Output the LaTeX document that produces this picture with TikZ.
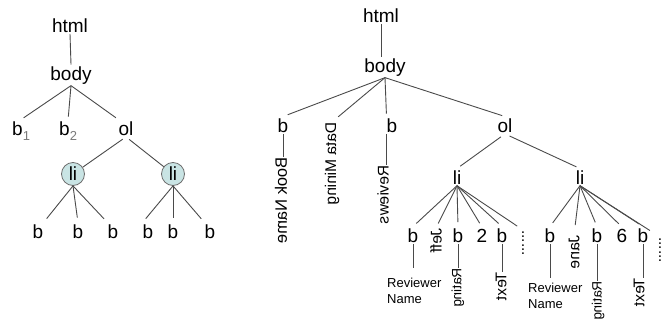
\documentclass[tikz,border=0pt]{standalone}
\usepackage{fontspec}
\setmainfont{Liberation Sans}
\definecolor{linec}{HTML}{4A4A4A}
\definecolor{circf}{HTML}{C9E4E4}
\definecolor{circc}{HTML}{6E6E6E}
\definecolor{subc}{HTML}{7A7A7A}
\newcommand{\subnum}[1]{\textcolor{subc}{\raisebox{-5pt}{\fontsize{13}{13}\selectfont #1}}}
\begin{document}
\begin{tikzpicture}[x=1pt,y=-1pt,
  lab/.style={font=\fontsize{19}{22}\selectfont, inner xsep=0pt, inner ysep=1.5pt, anchor=base},
  vtext/.style={font=\fontsize{15.5}{18}\selectfont, inner sep=0pt, anchor=west, cm={0,-1,-1,0,(0,0)}},
  vsmall/.style={vtext, font=\fontsize{13.5}{16}\selectfont},
  note/.style={font=\fontsize{13}{16}\selectfont, inner sep=0pt, align=left, anchor=north west},
  conn/.style={draw=linec, line width=0.9pt},
  linode/.style={circle, draw=circc, fill=circf, line width=0.8pt, minimum size=23pt,
                 inner sep=0pt, font=\fontsize{19}{22}\selectfont},
]
\useasboundingbox (0,0) rectangle (671,324);

% ---------- left tree: abstract structure ----------
\node[lab] (html1) at (70,32) {html};
\node[lab] (body1) at (71,80) {body};
\node[lab, anchor=base west] (b1) at (12,135) {b\subnum{1}};
\node[lab, anchor=base west] (b2) at (59,135) {b\subnum{2}};
\node[lab] (ol1) at (126,135) {ol};
\node[linode] (li1) at (73,174) {li};
\node[linode] (li2) at (173,174) {li};
\node[lab] (c1) at (38,238) {b};
\node[lab] (c2) at (78,238) {b};
\node[lab] (c3) at (113,238) {b};
\node[lab] (c4) at (148,238) {b};
\node[lab] (c5) at (173,238) {b};
\node[lab] (c6) at (210,238) {b};

\draw[conn] (html1.south) -- (body1.north);
\draw[conn, shorten >=3pt] (body1.south) -- (b1.north);
\draw[conn, shorten >=3pt] (body1.south) -- (b2.north);
\draw[conn, shorten >=3pt] (body1.south) -- (ol1.north west);
\draw[conn, shorten <=4pt] (ol1.south) -- (li1);
\draw[conn, shorten <=4pt] (ol1.south) -- (li2);
\draw[conn, shorten >=5pt] (li1.south) -- (c1.north east);
\draw[conn, shorten >=5pt] (li1.south) -- (c2.north);
\draw[conn, shorten >=5pt] (li1.south) -- (c3.north west);
\draw[conn, shorten >=5pt] (li2.south) -- (c4.north west);
\draw[conn, shorten >=5pt] (li2.south) -- (c5.north);
\draw[conn, shorten >=5pt] (li2.south) -- (c6.north west);

% ---------- right tree: a concrete page ----------
\node[lab] (html2) at (381,22) {html};
\node[lab] (body2) at (385,72) {body};
\node[lab] (bk) at (283,132) {b};
\node[vtext] (dm) at (332,122) {Data Mining};
\node[lab] (rvb) at (392,132) {b};
\node[lab] (ol2) at (505,132) {ol};
\node[vtext, font=\fontsize{16.5}{19}\selectfont] (bn) at (281,157) {Book Name};
\node[vtext] (rv) at (383,165) {Reviews};

\draw[conn] (html2.south) -- (html2.south |- body2.north);
\draw[conn, shorten >=5pt] (body2.south) -- (bk.north);
\draw[conn, shorten >=8pt] (body2.south) -- (dm.west);
\draw[conn, shorten >=3pt] (body2.south) -- (rvb.north west);
\draw[conn, shorten >=3pt] (body2.south) -- (ol2.north);
\draw[conn] (bk.south) -- (bk.south |- bn.west);
\draw[conn] (rvb.south west) -- (rvb.south west |- rv.west);

% list items
\node[lab] (lia) at (457,184) {li};
\node[lab] (lib) at (580,184) {li};
\draw[conn, shorten <=5pt, shorten >=4pt] (ol2.south) -- (lia.north);
\draw[conn, shorten <=5pt, shorten >=4pt] (ol2.south) -- (lib.north);

% first review
\node[lab] (ra1) at (413,242) {b};
\node[vtext] (jeff) at (436,228) {Jeff};
\node[lab] (ra2) at (458,242) {b};
\node[lab] (two) at (482,242) {2};
\node[lab] (ra3) at (502,242) {b};
\node[vtext] (dta) at (523,230) {......};
\foreach \t in {ra1,ra2,two,ra3}
  \draw[conn, shorten >=4.5pt] (lia.south) -- (\t.north);
\draw[conn, shorten >=5pt] (lia.south) -- (jeff.west);
\draw[conn, shorten >=7pt] (lia.south) -- (dta.west);

\node[note] (rna) at (387,278) {Reviewer\\Name};
\node[vsmall] (rta) at (458,268) {Rating};
\node[vtext] (txa) at (501,272) {Text};
\draw[conn, shorten >=10pt] (ra1.south) -- (ra1.south |- rna.north);
\draw[conn] (ra2.south) -- (ra2.south |- rta.west);
\draw[conn] (ra3.south) -- (ra3.south |- txa.west);

% second review
\node[lab] (rb1) at (550,242) {b};
\node[vtext] (jane) at (574,235) {Jane};
\node[lab] (rb2) at (597,242) {b};
\node[lab] (six) at (622,242) {6};
\node[lab] (rb3) at (643,242) {b};
\node[vtext] (dtb) at (660,237) {......};
\foreach \t in {rb1,rb2,six,rb3}
  \draw[conn, shorten >=4.5pt] (lib.south) -- (\t.north);
\draw[conn, shorten >=10pt] (lib.south) -- (jane.west);
\draw[conn, shorten >=12pt] (lib.south) -- (dtb.west);

\node[note] (rnb) at (528,283) {Reviewer\\Name};
\node[vsmall] (rtb) at (598,281) {Rating};
\node[vtext] (txb) at (639,278) {Text};
\draw[conn, shorten >=5pt] (rb1.south) -- (rb1.south |- rnb.north);
\draw[conn] (rb2.south) -- (rb2.south |- rtb.west);
\draw[conn] (rb3.south) -- (rb3.south |- txb.west);
\end{tikzpicture}
\end{document}
